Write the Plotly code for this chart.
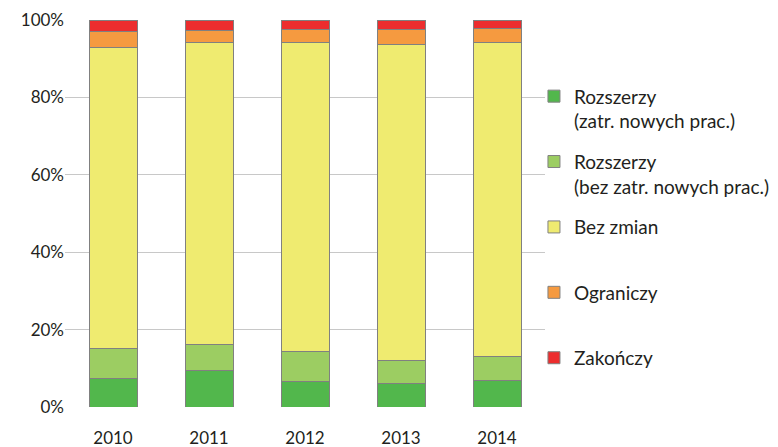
import plotly.graph_objects as go

years = ["2010", "2011", "2012", "2013", "2014"]
series_names = [
    "Rozszerzy<br>(zatr. nowych prac.)",
    "Rozszerzy<br>(bez zatr. nowych prac.)",
    "Bez zmian<br> ",
    "Ograniczy<br> ",
    "Zakończy",
]
rozszerzy_zatr = [7.3, 9.5, 6.6, 6.2, 6.8]
rozszerzy_bez = [7.9, 6.7, 7.8, 5.9, 6.3]
bez_zmian = [77.7, 78.0, 79.7, 81.6, 81.1]
ograniczy = [4.2, 3.0, 3.5, 3.9, 3.7]
zakonczy = [2.9, 2.8, 2.4, 2.4, 2.1]
y_ticks = [0, 20, 40, 60, 80, 100]
y_tick_labels = ["0%", "20%", "40%", "60%", "80%", "100%"]

colors = ["#52b74c", "#9ccd62", "#efeb70", "#f59a40", "#ec2d2e"]
values = [rozszerzy_zatr, rozszerzy_bez, bez_zmian, ograniczy, zakonczy]

fig = go.Figure()
for i, (name, vals, col) in enumerate(zip(series_names, values, colors)):
    fig.add_trace(go.Bar(
        x=years, y=vals, name=name, legendgroup=f"g{i}",
        marker=dict(color=col, line=dict(color="#808080", width=1)),
    ))

FONT = "Lato"
# page body has an 8px margin, so the figure is 8px smaller and shifted
fig.update_layout(
    width=770, height=439,
    barmode="stack", bargap=0.5,
    plot_bgcolor="white", paper_bgcolor="white",
    margin=dict(l=56.5, r=233, t=12, b=40, autoexpand=False),
    font=dict(family=FONT, size=17, color="#231f20"),
    xaxis=dict(showgrid=False, showline=False, ticks="", tickfont=dict(size=17),
               ticklabelstandoff=19, automargin=False),
    yaxis=dict(range=[0, 100], tickvals=y_ticks, ticktext=y_tick_labels,
               showgrid=True, gridcolor="#c8c8c8", gridwidth=1,
               zeroline=False, showline=False, ticks="", ticklen=0,
               automargin=False),
    legend=dict(x=0.977, xanchor="left", y=0.852, yanchor="top",
                traceorder="grouped", tracegroupgap=13, valign="top",
                font=dict(family=FONT, size=19, color="#231f20"),
                itemwidth=30, bgcolor="rgba(0,0,0,0)"),
    showlegend=True,
)
fig.write_html("out.html")
